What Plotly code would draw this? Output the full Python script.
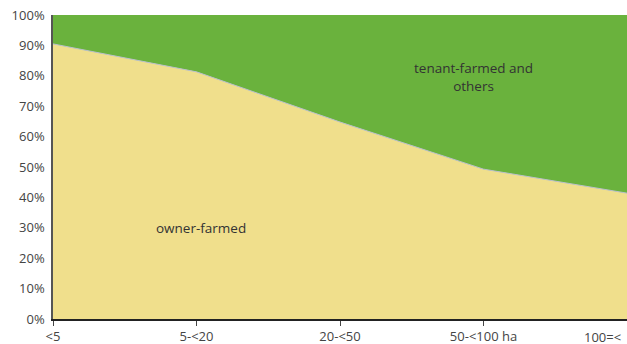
import plotly.graph_objects as go

categories = ["<5", "5-<20", "20-<50", "50-<100 ha", "100=<"]
owner = [90.5, 81.3, 64.8, 49.3, 41.4]
tenant = [100 - v for v in owner]
yticks = [0, 10, 20, 30, 40, 50, 60, 70, 80, 90, 100]

xs = list(range(len(categories)))
fig = go.Figure()
fig.add_trace(go.Scatter(x=xs, y=owner, mode="lines", stackgroup="one",
                         line=dict(color="#B9BFC9", width=1), fillcolor="#F0DF8C",
                         name="owner-farmed"))
fig.add_trace(go.Scatter(x=xs, y=tenant, mode="lines", stackgroup="one",
                         line=dict(color="#6AB23D", width=0), fillcolor="#6AB23D",
                         name="tenant-farmed and others"))

font = dict(family="Open Sans, sans-serif", size=13, color="#444444")
afont = dict(family="Open Sans, sans-serif", size=13.5, color="#333333")
fig.update_layout(
    width=627, height=344, margin=dict(l=53, r=0, t=15, b=25),
    plot_bgcolor="white", paper_bgcolor="white", showlegend=False, font=font,
    xaxis=dict(range=[0, 4], tickvals=xs[:-1], ticktext=categories[:-1],
               showgrid=False, zeroline=False, showline=True, linecolor="#222222",
               linewidth=1.5, ticks="outside", ticklen=5, tickcolor="#444444",
               tickfont=font),
    yaxis=dict(range=[0, 100], tickvals=yticks, ticktext=[f"{v}%" for v in yticks],
               showgrid=False, zeroline=False, showline=True, linecolor="#555555",
               linewidth=1.5, ticks="", tickfont=font, ticklabelstandoff=4),
    annotations=[
        dict(x=4, y=0, xref="x", yref="paper", text=categories[-1], showarrow=False,
             xanchor="right", yanchor="top", yshift=-7, xshift=-4, font=font),
        dict(x=1.03, y=30, xref="x", yref="y", text="owner-farmed", showarrow=False,
             font=afont),
        dict(x=2.93, y=79.5, xref="x", yref="y", text="tenant-farmed and<br>others",
             showarrow=False, font=afont),
    ],
)
fig.write_html("out.html")
